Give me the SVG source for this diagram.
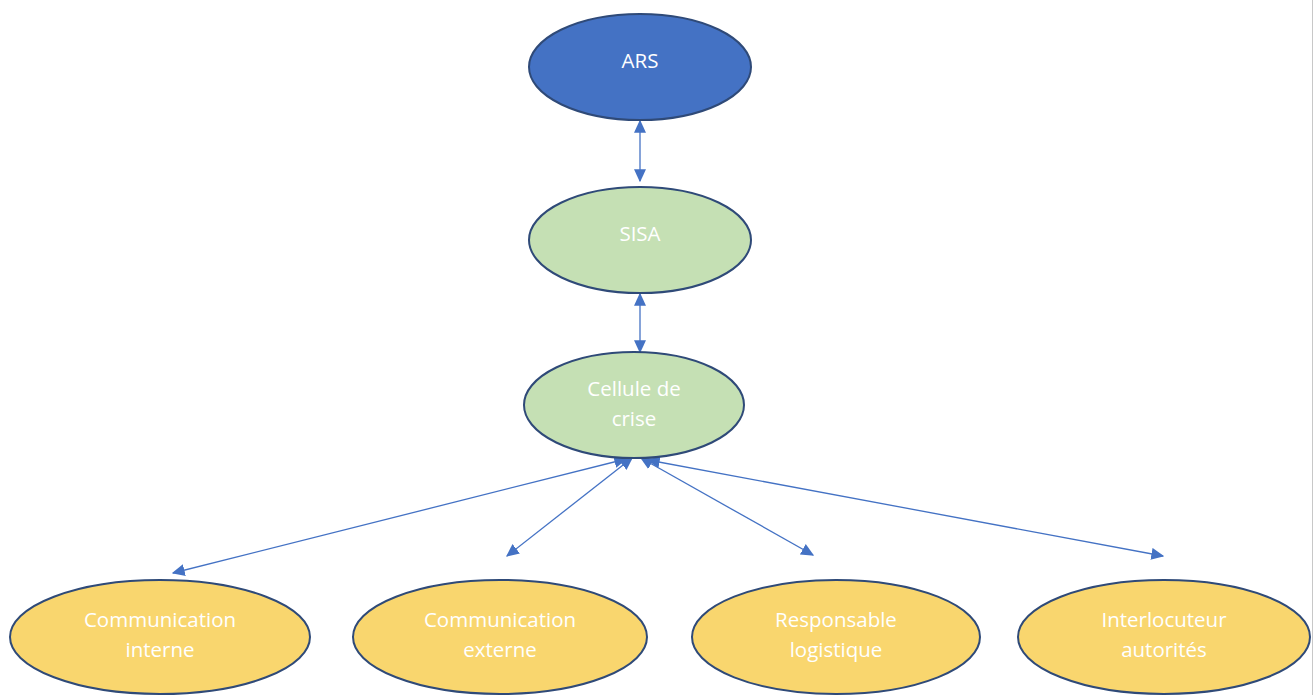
<svg xmlns="http://www.w3.org/2000/svg" width="1314" height="695" viewBox="0 0 1314 695">
<style>
.n{stroke:#2F4A78;stroke-width:2}
.blue{fill:#4472C4}
.green{fill:#C5E0B4}
.yellow{fill:#F9D66E}
.t{font-family:"Open Sans","Liberation Sans",sans-serif;font-size:20.5px;fill:#FFFFFF;text-anchor:middle}
.c{stroke:#4472C4;stroke-width:1.3;fill:none;marker-start:url(#ah);marker-end:url(#ah)}
</style>
<defs>
<marker id="ah" viewBox="0 0 10 10" refX="9" refY="5" markerWidth="13" markerHeight="12" markerUnits="userSpaceOnUse" orient="auto-start-reverse" preserveAspectRatio="none">
<path d="M0,0 L10,5 L0,10 z" fill="#4472C4"/>
</marker>
</defs>
<rect width="1314" height="695" fill="#FFFFFF"/>
<line x1="1312.5" y1="0" x2="1312.5" y2="695" stroke="#C8C8C8" stroke-width="1"/>
<g id="connectors">
<line class="c" x1="640" y1="121" x2="640" y2="181"/>
<line class="c" x1="640" y1="294" x2="640" y2="352"/>
<line class="c" x1="626" y1="459" x2="173" y2="573"/>
<line class="c" x1="632" y1="458" x2="507" y2="556"/>
<line class="c" x1="641" y1="458" x2="813" y2="555"/>
<line class="c" x1="648" y1="460" x2="1163" y2="556"/>
</g>
<g id="ars">
<ellipse class="n blue" cx="640" cy="67" rx="111" ry="53"/>
<text class="t" x="640" y="68">ARS</text>
</g>
<g id="sisa">
<ellipse class="n green" cx="640" cy="240" rx="111" ry="53"/>
<text class="t" x="640" y="241">SISA</text>
</g>
<g id="cellule">
<ellipse class="n green" cx="634" cy="405" rx="110" ry="53"/>
<text class="t" x="634" y="396">Cellule de</text>
<text class="t" x="634" y="426">crise</text>
</g>
<g id="com-interne">
<ellipse class="n yellow" cx="160" cy="637" rx="150" ry="57"/>
<text class="t" x="160" y="627">Communication</text>
<text class="t" x="160" y="657">interne</text>
</g>
<g id="com-externe">
<ellipse class="n yellow" cx="500" cy="637" rx="147" ry="57"/>
<text class="t" x="500" y="627">Communication</text>
<text class="t" x="500" y="657">externe</text>
</g>
<g id="logistique">
<ellipse class="n yellow" cx="836" cy="637" rx="144" ry="57"/>
<text class="t" x="836" y="627">Responsable</text>
<text class="t" x="836" y="657">logistique</text>
</g>
<g id="autorites">
<ellipse class="n yellow" cx="1164" cy="637" rx="146" ry="57"/>
<text class="t" x="1164" y="627">Interlocuteur</text>
<text class="t" x="1164" y="657">autorités</text>
</g>
</svg>
